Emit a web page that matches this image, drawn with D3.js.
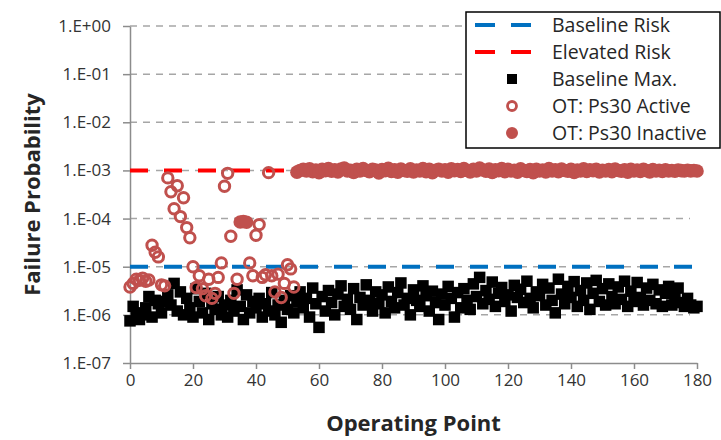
<!DOCTYPE html>
<html>
<head>
<meta charset="utf-8">
<script src="https://cdn.jsdelivr.net/npm/d3@7"></script>
<style>
  html, body { margin: 0; padding: 0; background: #fff; }
  svg { display: block; font-family: "Open Sans", sans-serif; }
</style>
</head>
<body>
<svg id="chart" width="721" height="440"></svg>
<script>
// Operating points and failure probabilities
const baselineRisk = 1e-5;
const elevatedRisk = 1e-3;

// Baseline maximum, one value per operating point 0..180
const baselineMax = [
  7.5e-7, 1.5e-6, 1.1e-6, 8e-7, 1.0e-6, 1.4e-6, 2.4e-6, 9e-7, 2.0e-6, 1.7e-6,
  1.1e-6, 1.9e-6, 2.6e-6, 1.6e-6, 4.5e-6, 1.2e-6, 3.0e-6, 1.0e-6, 2.2e-6, 1.4e-6,
  9e-7, 3.5e-6, 1.9e-6, 1.1e-6, 2.8e-6, 8e-7, 1.7e-6, 1.3e-6, 2.4e-6, 1.0e-6,
  1.6e-6, 9e-7, 2.0e-6, 1.2e-6, 3.3e-6, 1.5e-6, 8e-7, 2.6e-6, 1.1e-6, 1.9e-6,
  1.4e-6, 2.2e-6, 9e-7, 1.7e-6, 1.2e-6, 2.9e-6, 1.0e-6, 1.6e-6, 7e-7, 2.0e-6,
  1.3e-6, 2.5e-6, 1.1e-6, 1.9e-6, 3.0e-6, 1.4e-6, 2.2e-6, 9e-7, 3.6e-6, 1.7e-6,
  5.5e-7, 2.4e-6, 1.2e-6, 3.2e-6, 1.8e-6, 1.0e-6, 2.7e-6, 4.0e-6, 1.5e-6, 2.1e-6,
  1.3e-6, 3.5e-6, 8e-7, 2.3e-6, 1.6e-6, 4.2e-6, 2.0e-6, 1.2e-6, 3.0e-6, 1.7e-6,
  2.6e-6, 1.1e-6, 3.8e-6, 1.9e-6, 1.4e-6, 2.9e-6, 4.6e-6, 1.6e-6, 2.2e-6, 1.0e-6,
  3.3e-6, 2.0e-6, 1.5e-6, 4.0e-6, 2.5e-6, 1.2e-6, 3.1e-6, 1.8e-6, 8e-7, 2.7e-6,
  1.6e-6, 3.9e-6, 2.2e-6, 9e-7, 2.9e-6, 1.4e-6, 3.5e-6, 2.0e-6, 1.3e-6, 4.4e-6,
  2.4e-6, 6.0e-6, 1.7e-6, 3.2e-6, 2.1e-6, 4.8e-6, 1.5e-6, 2.8e-6, 3.7e-6, 1.9e-6,
  2.6e-6, 1.2e-6, 4.1e-6, 2.3e-6, 3.4e-6, 1.8e-6, 5.0e-6, 2.2e-6, 1.4e-6, 3.0e-6,
  2.5e-6, 4.3e-6, 1.6e-6, 3.6e-6, 2.0e-6, 1.1e-6, 5.5e-6, 2.7e-6, 1.7e-6, 3.9e-6,
  2.3e-6, 4.9e-6, 1.5e-6, 3.2e-6, 2.0e-6, 4.6e-6, 1.3e-6, 2.8e-6, 5.2e-6, 1.9e-6,
  3.5e-6, 1.6e-6, 4.4e-6, 2.4e-6, 1.7e-6, 3.8e-6, 2.1e-6, 5.0e-6, 1.5e-6, 3.1e-6,
  1.9e-6, 4.7e-6, 2.3e-6, 1.6e-6, 3.6e-6, 2.0e-6, 4.3e-6, 1.7e-6, 3.3e-6, 1.5e-6,
  2.8e-6, 3.9e-6, 1.6e-6, 2.5e-6, 3.6e-6, 1.8e-6, 1.5e-6, 2.2e-6, 1.6e-6, 1.4e-6,
  1.5e-6
];

// Open-time results with Ps30 active
const activeOps = [
  0, 1, 2, 3, 4, 5, 6, 7, 8, 9,
  10, 11, 12, 13, 14, 15, 16, 17, 18, 19,
  20, 21, 22, 23, 24, 25, 26, 27, 28, 29,
  30, 31, 32, 33, 34, 38, 39,
  40, 41, 42, 43, 44, 45, 46, 47, 48, 49,
  50, 51, 52
];
const activeValues = [
  3.8e-6, 4.5e-6, 5.5e-6, 5.2e-6, 5.8e-6, 5.0e-6, 5.3e-6, 2.8e-5, 2.0e-5, 1.6e-5,
  4.2e-6, 4.0e-6, 7.0e-4, 3.6e-4, 1.6e-4, 4.8e-4, 1.1e-4, 2.7e-4, 6.5e-5, 4.0e-5,
  1.0e-5, 3.7e-6, 6.5e-6, 3.5e-6, 2.5e-6, 5.5e-6, 2.2e-6, 2.8e-6, 6.0e-6, 1.2e-5,
  4.7e-4, 8.7e-4, 4.3e-5, 2.8e-6, 5.5e-6, 1.2e-5, 6.5e-6,
  4.5e-5, 7.5e-5, 6.0e-6, 6.8e-6, 9.0e-4, 6.5e-6, 3.0e-6, 7.0e-6, 2.3e-6, 4.5e-6,
  1.1e-5, 9.0e-6, 3.8e-6
];

// Open-time results with Ps30 inactive
const inactiveOps = [35, 36, 37].concat(d3.range(53, 181));
const inactiveValues = [
  8.5e-5, 8.7e-5, 8.4e-5,
  0.92e-3, 1.00e-3, 1.05e-3, 0.97e-3, 1.08e-3, 0.94e-3, 1.02e-3, 0.90e-3, 1.06e-3, 0.99e-3,
  1.10e-3, 0.96e-3, 1.03e-3, 0.93e-3, 1.07e-3, 1.12e-3, 0.98e-3, 1.01e-3, 0.91e-3, 1.05e-3,
  0.97e-3, 1.09e-3, 1.00e-3, 0.94e-3, 1.06e-3, 1.02e-3, 0.89e-3, 1.04e-3, 0.99e-3, 1.11e-3,
  0.95e-3, 1.03e-3, 0.92e-3, 1.07e-3, 1.00e-3, 0.96e-3, 1.08e-3, 0.93e-3, 1.02e-3, 0.98e-3,
  1.10e-3, 0.94e-3, 1.05e-3, 0.90e-3, 1.01e-3, 1.06e-3, 0.97e-3, 1.03e-3, 0.92e-3, 1.08e-3,
  0.99e-3, 1.04e-3, 0.95e-3, 1.09e-3, 1.00e-3, 0.93e-3, 1.06e-3, 0.98e-3, 1.12e-3, 1.02e-3,
  0.96e-3, 1.07e-3, 0.91e-3, 1.03e-3, 0.99e-3, 1.10e-3, 0.94e-3, 1.05e-3, 0.97e-3, 1.01e-3,
  0.92e-3, 1.08e-3, 1.00e-3, 0.95e-3, 1.04e-3, 0.90e-3, 1.06e-3, 0.98e-3, 1.02e-3, 0.93e-3,
  1.09e-3, 0.97e-3, 1.03e-3, 0.94e-3, 1.07e-3, 1.00e-3, 0.96e-3, 1.05e-3, 0.91e-3, 1.02e-3,
  0.98e-3, 1.08e-3, 0.95e-3, 1.03e-3, 0.99e-3, 1.06e-3, 0.93e-3, 1.01e-3, 0.97e-3, 1.04e-3,
  0.94e-3, 1.07e-3, 1.00e-3, 0.96e-3, 1.03e-3, 0.92e-3, 1.05e-3, 0.98e-3, 1.02e-3, 0.95e-3,
  1.06e-3, 0.99e-3, 0.93e-3, 1.04e-3, 0.97e-3, 1.01e-3, 0.95e-3, 1.03e-3, 0.98e-3, 1.00e-3,
  0.96e-3, 1.02e-3, 0.99e-3, 0.97e-3, 1.01e-3, 0.98e-3, 1.00e-3, 0.97e-3
];

const xTicks = [0, 20, 40, 60, 80, 100, 120, 140, 160, 180];
const yTicks = [1e0, 1e-1, 1e-2, 1e-3, 1e-4, 1e-5, 1e-6, 1e-7];
const yTickLabels = ["1.E+00", "1.E-01", "1.E-02", "1.E-03", "1.E-04", "1.E-05", "1.E-06", "1.E-07"];

const legendItems = [
  { label: "Baseline Risk", kind: "line", color: "#0070C0" },
  { label: "Elevated Risk", kind: "line", color: "#FF0000" },
  { label: "Baseline Max.", kind: "square", color: "#000000" },
  { label: "OT: Ps30 Active", kind: "open", color: "#C0504D" },
  { label: "OT: Ps30 Inactive", kind: "filled", color: "#C0504D" }
];

const svg = d3.select("#chart");
const plotLeft = 130, plotRight = 697, plotTop = 26, plotBottom = 363;
const x = d3.scaleLinear().domain([0, 180]).range([plotLeft, plotRight]);
const y = d3.scaleLog().domain([1e-7, 1]).range([plotBottom, plotTop]);
const axisGray = "#8C8C8C";
const markerRed = "#C0504D";
const textColor = "#333333";
const fontFamily = "'Open Sans', sans-serif";

// Horizontal dashed gridlines
svg.append("g")
  .selectAll("line")
  .data(yTicks.slice(0, -1))
  .join("line")
  .attr("x1", plotLeft).attr("x2", 690)
  .attr("y1", d => y(d)).attr("y2", d => y(d))
  .attr("stroke", "#A6A6A6")
  .attr("stroke-width", 1.5)
  .attr("stroke-dasharray", "7,6");

// Y axis
const yAxis = d3.axisLeft(y)
  .tickValues(yTicks)
  .tickFormat((d, i) => yTickLabels[i])
  .tickSize(7)
  .tickSizeOuter(0)
  .tickPadding(12);
const gy = svg.append("g").attr("transform", `translate(${plotLeft},0)`).call(yAxis);
gy.select(".domain").attr("stroke", axisGray).attr("stroke-width", 1.5);
gy.selectAll(".tick line").attr("stroke", axisGray).attr("stroke-width", 1.5);
gy.selectAll(".tick text")
  .attr("font-size", 17).attr("fill", textColor).attr("font-family", fontFamily);

// X axis
const xAxis = d3.axisBottom(x)
  .tickValues(xTicks)
  .tickSize(6)
  .tickSizeOuter(0)
  .tickPadding(5);
const gx = svg.append("g").attr("transform", `translate(0,${plotBottom})`).call(xAxis);
gx.select(".domain").attr("stroke", axisGray).attr("stroke-width", 1.5);
gx.selectAll(".tick line").attr("stroke", axisGray).attr("stroke-width", 1.5);
gx.selectAll(".tick text")
  .attr("font-size", 17).attr("fill", textColor).attr("font-family", fontFamily);

// Reference risk levels
svg.append("line")
  .attr("x1", x(0)).attr("x2", x(180))
  .attr("y1", y(baselineRisk)).attr("y2", y(baselineRisk))
  .attr("stroke", "#0070C0").attr("stroke-width", 4)
  .attr("stroke-dasharray", "18,16");
svg.append("line")
  .attr("x1", x(0)).attr("x2", x(180))
  .attr("y1", y(elevatedRisk)).attr("y2", y(elevatedRisk))
  .attr("stroke", "#FF0000").attr("stroke-width", 4)
  .attr("stroke-dasharray", "18,16");

// Baseline maximum squares
const sq = 11.5;
svg.append("g")
  .selectAll("rect")
  .data(baselineMax)
  .join("rect")
  .attr("x", (d, i) => x(i) - sq / 2)
  .attr("y", d => y(d) - sq / 2)
  .attr("width", sq).attr("height", sq)
  .attr("fill", "#000");

// Ps30 active (open circles)
svg.append("g")
  .selectAll("circle")
  .data(activeOps)
  .join("circle")
  .attr("cx", d => x(d))
  .attr("cy", (d, i) => y(activeValues[i]))
  .attr("r", 5.2)
  .attr("fill", "none")
  .attr("stroke", markerRed)
  .attr("stroke-width", 3);

// Ps30 inactive (filled circles)
svg.append("g")
  .selectAll("circle")
  .data(inactiveOps)
  .join("circle")
  .attr("cx", d => x(d))
  .attr("cy", (d, i) => y(inactiveValues[i]))
  .attr("r", 6.8)
  .attr("fill", markerRed);

// Axis titles
svg.append("text")
  .attr("transform", `translate(40,${(plotTop + plotBottom) / 2}) rotate(-90)`)
  .attr("text-anchor", "middle")
  .attr("font-family", fontFamily)
  .attr("font-size", 22).attr("font-weight", "bold").attr("fill", "#262626")
  .text("Failure Probability");
svg.append("text")
  .attr("x", (plotLeft + plotRight) / 2).attr("y", 431)
  .attr("text-anchor", "middle")
  .attr("font-family", fontFamily)
  .attr("font-size", 22).attr("font-weight", "bold").attr("fill", "#262626")
  .text("Operating Point");

// Legend
const lg = svg.append("g");
lg.append("rect")
  .attr("x", 466).attr("y", 12).attr("width", 254).attr("height", 136)
  .attr("fill", "#fff").attr("stroke", "#000").attr("stroke-width", 1.5);
const rowH = 27;
legendItems.forEach((it, i) => {
  const cy = 25 + i * rowH;
  const g = lg.append("g");
  if (it.kind === "line") {
    g.append("line").attr("x1", 475).attr("x2", 531).attr("y1", cy).attr("y2", cy)
      .attr("stroke", it.color).attr("stroke-width", 4)
      .attr("stroke-dasharray", "20,16");
  } else if (it.kind === "square") {
    g.append("rect").attr("x", 512 - 5).attr("y", cy - 5).attr("width", 10).attr("height", 10)
      .attr("fill", it.color);
  } else if (it.kind === "open") {
    g.append("circle").attr("cx", 512).attr("cy", cy).attr("r", 4.5)
      .attr("fill", "none").attr("stroke", it.color).attr("stroke-width", 2.8);
  } else {
    g.append("circle").attr("cx", 512).attr("cy", cy).attr("r", 6).attr("fill", it.color);
  }
  g.append("text").attr("x", 552).attr("y", cy + 7)
    .attr("font-family", fontFamily)
    .attr("font-size", 19.5).attr("fill", "#262626")
    .text(it.label);
});
</script>
</body>
</html>
